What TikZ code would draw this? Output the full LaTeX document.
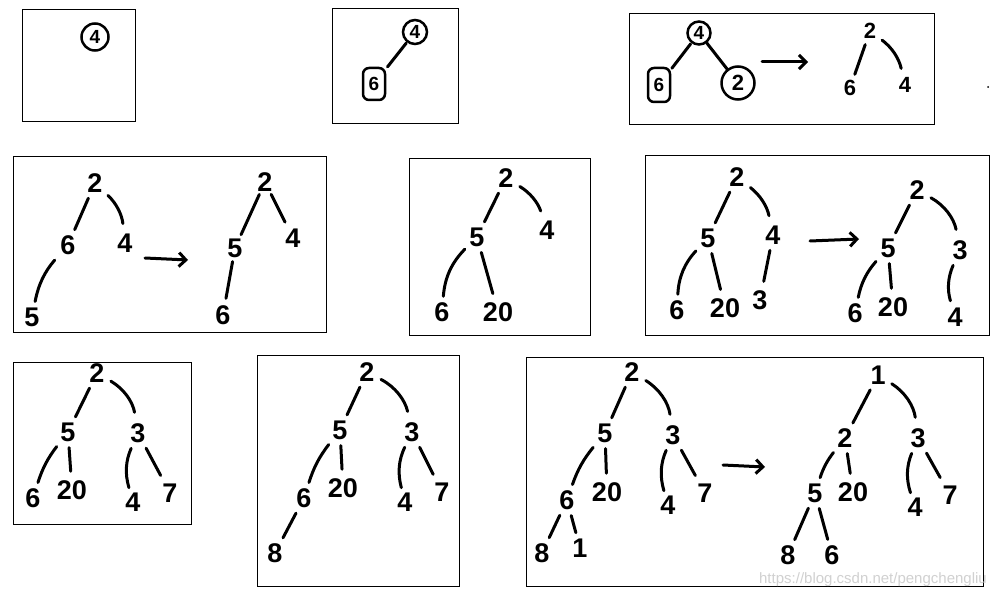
\documentclass[tikz,border=0pt]{standalone}
\usepackage{fontspec}
\setmainfont{Liberation Sans}
\usetikzlibrary{arrows.meta}
\begin{document}
\begin{tikzpicture}[x=1pt,y=-1pt,
  dig/.style={font=\fontsize{27}{27}\selectfont\bfseries, inner sep=1pt},
  digs/.style={font=\fontsize{22}{22}\selectfont\bfseries, inner sep=1pt},
  circ/.style={draw, circle, line width=2.5pt, inner sep=0pt, font=\fontsize{19}{19}\selectfont\bfseries},
  rbox/.style={draw, rectangle, rounded corners=6pt, line width=2.5pt, inner sep=0pt, font=\fontsize{19}{19}\selectfont\bfseries},
  edge/.style={line width=3pt, line cap=round, shorten <=5pt, shorten >=5pt},
  frame/.style={line width=1pt},
  arr/.style={line width=3pt, line cap=round, -{Straight Barb[length=7pt,width=14pt,line width=3pt]}}]
\useasboundingbox (0,0) rectangle (994,599);
\fill[white] (0,0) rectangle (994,599);

% frames
\draw[frame] (22,10) rectangle (135,122);
\draw[frame] (332,9) rectangle (458,124);
\draw[frame] (629,14) rectangle (934,125);
\draw[frame] (13,157) rectangle (326,332);
\draw[frame] (409,159) rectangle (590,335);
\draw[frame] (645,156) rectangle (989,335);
\draw[frame] (13,362) rectangle (191,524);
\draw[frame] (257,355) rectangle (459,586);
\draw[frame] (526,357) rectangle (983,586);

% box 1
\node[circ, minimum size=27pt] (c1) at (95,37) {4};

% box 2
\node[circ, minimum size=24pt] (c2a) at (415,32) {4};
\node[rbox, minimum width=22pt, minimum height=32pt] (c2b) at (374,84) {6};
\draw[edge, shorten <=1pt, shorten >=2pt] (c2a) -- (c2b);

% box 3
\node[circ, minimum size=23pt] (c3a) at (699,33) {4};
\node[rbox, minimum width=22pt, minimum height=34pt] (c3b) at (659,85) {6};
\node[circ, minimum size=33pt, font=\fontsize{22}{22}\selectfont\bfseries] (c3c) at (738,83) {2};
\draw[edge, shorten <=1pt, shorten >=1pt] (c3a) -- (c3b);
\draw[edge, shorten <=0pt, shorten >=0pt] (c3a) -- (c3c);
\coordinate (a3s) at (762,62);
\coordinate (a3e) at (808,62);
\draw[arr] (a3s) -- (a3e);
\node[digs] (t3a) at (870,31) {2};
\node[digs] (t3b) at (850,88) {6};
\node[digs] (t3c) at (905,85) {4};
\draw[edge] (t3a) -- (t3b);
\draw[edge, shorten <=6pt, shorten >=8pt] (t3a) to[bend left=20] (t3c);
\fill (988,87) circle (1pt);

% box 4
\node[dig] (t4a) at (95,183) {2};
\node[dig] (t4b) at (68,245) {6};
\node[dig] (t4c) at (125,243) {4};
\node[dig] (t4d) at (32,317) {5};
\draw[edge] (t4a) -- (t4b);
\draw[edge, shorten <=6pt, shorten >=9pt] (t4a) to[bend left=20] (t4c);
\draw[edge, shorten <=7pt] (t4b) to[bend right=15] (t4d);
\coordinate (a4s) at (145,258);
\coordinate (a4e) at (188,260);
\draw[arr] (a4s) -- (a4e);
\node[dig] (t4e) at (265,182) {2};
\node[dig] (t4f) at (235,248) {5};
\node[dig] (t4g) at (293,238) {4};
\node[dig] (t4h) at (223,315) {6};
\draw[edge, shorten <=2pt, shorten >=3pt] (t4e) -- (t4f);
\draw[edge, shorten <=2pt, shorten >=6pt] (t4e) -- (t4g);
\draw[edge, shorten <=3pt, shorten >=6pt] (t4f) -- (t4h);

% box 5
\node[dig] (t5a) at (506,178) {2};
\node[dig] (t5b) at (477,237) {5};
\node[dig] (t5c) at (547,230) {4};
\node[dig] (t5d) at (442,312) {6};
\node[dig] (t5e) at (498,312) {20};
\draw[edge] (t5a) -- (t5b);
\draw[edge, shorten <=6pt, shorten >=9pt] (t5a) to[bend left=20] (t5c);
\draw[edge] (t5b) to[bend right=20] (t5d);
\draw[edge, shorten >=8pt] (t5b) -- (t5e);

% box 6 left
\node[dig] (t6a) at (737,177) {2};
\node[dig] (t6b) at (708,238) {5};
\node[dig] (t6c) at (773,235) {4};
\node[dig] (t6d) at (677,310) {6};
\node[dig] (t6e) at (725,308) {20};
\node[dig] (t6f) at (760,300) {3};
\draw[edge] (t6a) -- (t6b);
\draw[edge, shorten <=6pt, shorten >=9pt] (t6a) to[bend left=20] (t6c);
\draw[edge] (t6b) to[bend right=20] (t6d);
\draw[edge, shorten >=8pt] (t6b) -- (t6e);
\draw[edge, shorten >=8pt] (t6c) -- (t6f);
\coordinate (a6s) at (810,241);
\coordinate (a6e) at (859,239);
\draw[arr] (a6s) -- (a6e);
% box 6 right
\node[dig] (t6g) at (917,190) {2};
\node[dig] (t6h) at (888,248) {5};
\node[dig] (t6i) at (960,250) {3};
\node[dig] (t6j) at (855,313) {6};
\node[dig] (t6k) at (893,307) {20};
\node[dig] (t6l) at (955,317) {4};
\draw[edge] (t6g) -- (t6h);
\draw[edge, shorten <=6pt, shorten >=10pt] (t6g) to[bend left=25] (t6i);
\draw[edge] (t6h) to[bend right=15] (t6j);
\draw[edge, shorten >=8pt] (t6h) -- (t6k);
\draw[edge, shorten >=6pt] (t6i) to[bend right=20] (t6l);

% box 7
\node[dig] (t7a) at (97,373) {2};
\node[dig] (t7b) at (68,432) {5};
\node[dig] (t7c) at (138,433) {3};
\node[dig] (t7d) at (33,498) {6};
\node[dig] (t7e) at (72,490) {20};
\node[dig] (t7f) at (133,502) {4};
\node[dig] (t7g) at (170,493) {7};
\draw[edge] (t7a) -- (t7b);
\draw[edge, shorten <=6pt, shorten >=10pt] (t7a) to[bend left=25] (t7c);
\draw[edge] (t7b) to[bend right=10] (t7d);
\draw[edge, shorten >=8pt] (t7b) -- (t7e);
\draw[edge, shorten >=4pt] (t7c) to[bend right=20] (t7f);
\draw[edge, shorten >=8pt] (t7c) -- (t7g);

% box 8
\node[dig] (t8a) at (367,372) {2};
\node[dig] (t8b) at (340,430) {5};
\node[dig] (t8c) at (412,432) {3};
\node[dig] (t8d) at (304,498) {6};
\node[dig] (t8e) at (343,488) {20};
\node[dig] (t8f) at (405,502) {4};
\node[dig] (t8g) at (442,492) {7};
\node[dig] (t8h) at (275,553) {8};
\draw[edge] (t8a) -- (t8b);
\draw[edge, shorten <=6pt, shorten >=10pt] (t8a) to[bend left=25] (t8c);
\draw[edge] (t8b) to[bend right=10] (t8d);
\draw[edge, shorten >=8pt] (t8b) -- (t8e);
\draw[edge, shorten >=4pt] (t8c) to[bend right=20] (t8f);
\draw[edge, shorten >=8pt] (t8c) -- (t8g);
\draw[edge] (t8d) -- (t8h);

% box 9 left
\node[dig] (t9a) at (632,372) {2};
\node[dig] (t9b) at (605,433) {5};
\node[dig] (t9c) at (673,435) {3};
\node[dig] (t9d) at (567,500) {6};
\node[dig] (t9e) at (607,492) {20};
\node[dig] (t9f) at (668,505) {4};
\node[dig] (t9g) at (705,493) {7};
\node[dig] (t9h) at (542,553) {8};
\node[dig] (t9i) at (580,548) {1};
\draw[edge] (t9a) -- (t9b);
\draw[edge, shorten <=6pt, shorten >=10pt] (t9a) to[bend left=25] (t9c);
\draw[edge] (t9b) to[bend right=10] (t9d);
\draw[edge, shorten >=8pt] (t9b) -- (t9e);
\draw[edge, shorten >=4pt] (t9c) to[bend right=20] (t9f);
\draw[edge, shorten >=8pt] (t9c) -- (t9g);
\draw[edge] (t9d) -- (t9h);
\draw[edge] (t9d) -- (t9i);
\coordinate (a9s) at (723,465);
\coordinate (a9e) at (765,467);
\draw[arr] (a9s) -- (a9e);
% box 9 right
\node[dig] (u9a) at (878,375) {1};
\node[dig] (u9b) at (845,438) {2};
\node[dig] (u9c) at (918,438) {3};
\node[dig] (u9d) at (815,493) {5};
\node[dig] (u9e) at (853,492) {20};
\node[dig] (u9f) at (915,507) {4};
\node[dig] (u9g) at (950,495) {7};
\node[dig] (u9h) at (788,555) {8};
\node[dig] (u9i) at (832,555) {6};
\draw[edge] (u9a) -- (u9b);
\draw[edge, shorten <=6pt, shorten >=10pt] (u9a) to[bend left=25] (u9c);
\draw[edge] (u9b) to[bend right=10] (u9d);
\draw[edge, shorten >=8pt] (u9b) -- (u9e);
\draw[edge, shorten >=4pt] (u9c) to[bend right=20] (u9f);
\draw[edge, shorten >=8pt] (u9c) -- (u9g);
\draw[edge] (u9d) -- (u9h);
\draw[edge] (u9d) -- (u9i);

% watermark
\node[anchor=east, text=black!18, font=\fontsize{15}{15}\selectfont, inner sep=0pt] (wm) at (987,580) {https://blog.csdn.net/pengchengliu};
\end{tikzpicture}
\end{document}
